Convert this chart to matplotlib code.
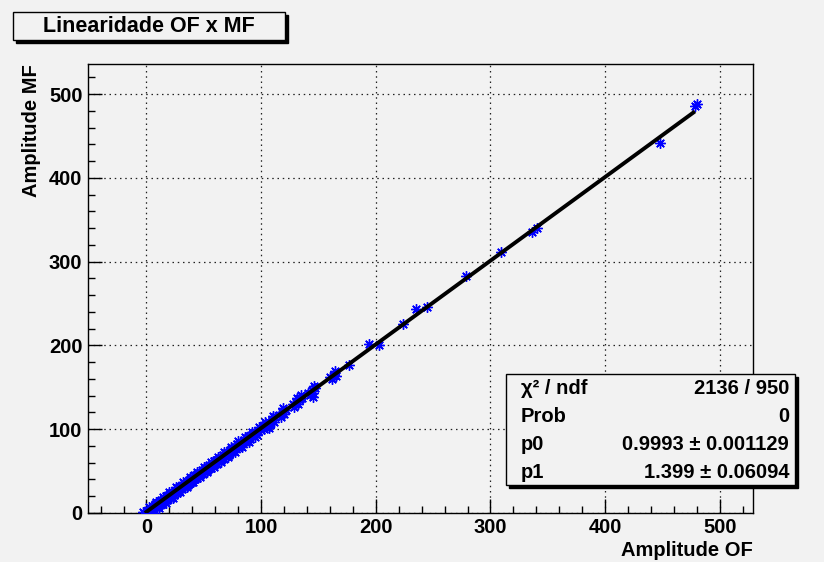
import matplotlib
matplotlib.use("Agg")
from matplotlib import pyplot as plt
from matplotlib.patches import Rectangle
import numpy as np

# ---- data ----
amp_of = [
    -3.0, 0.5, 1.2, 2.0, 2.8, 3.5, 4.1, 5.0, 5.6, 6.3, 7.1, 7.8, 8.4, 9.2, 10.0,
    10.7, 11.5, 12.1, 12.9, 13.6, 14.4, 15.2, 15.9, 16.5, 17.4, 18.1, 18.8, 19.6,
    20.3, 21.1, 21.8, 22.6, 23.3, 24.0, 24.9, 25.5, 26.4, 27.1, 27.8, 28.6, 29.5,
    30.2, 30.9, 31.7, 32.5, 33.2, 34.0, 34.8, 35.5, 36.3, 37.0, 37.9, 38.6, 39.4,
    40.1, 41.0, 41.8, 42.5, 43.3, 44.2, 45.0, 45.8, 46.6, 47.5, 48.3, 49.2, 50.0,
    50.9, 51.8, 52.6, 53.5, 54.4, 55.3, 56.2, 57.1, 58.0, 59.0, 59.9, 60.8, 61.8,
    62.7, 63.7, 64.6, 65.6, 66.6, 67.6, 68.6, 69.6, 70.6, 71.7, 72.7, 73.8, 74.8,
    75.9, 77.0, 78.1, 79.3, 80.4, 81.6, 82.8, 84.0, 85.3, 86.5, 87.8, 89.1, 90.5,
    91.8, 93.2, 94.6, 96.0, 97.5, 99.0,
    2.5, 4.5, 8.0, 11.0, 14.0, 17.0, 20.0, 23.0, 26.0, 29.0, 32.0, 35.0, 38.0,
    41.0, 44.0, 47.0, 50.0, 53.0, 56.0, 59.0, 62.0, 65.0, 68.0, 71.0, 74.0, 77.0,
    80.0, 83.0, 86.0, 89.0, 92.0, 95.0, 98.0,
    100.2, 101.5, 102.8, 104.0, 105.5, 106.8, 108.0, 109.5, 111.0, 112.5,
    103.0, 107.0, 110.5,
    115.5, 117.0, 118.5, 120.0, 121.5, 119.0,
    127.5, 129.0, 130.5, 132.0, 133.5, 136.0, 131.0, 135.0,
    141.0, 142.5, 144.0, 145.5, 147.0, 145.0, 146.0,
    160.5, 162.0, 163.5, 165.5, 164.0, 176.5,
    194.0, 203.0, 224.0, 235.0, 245.0, 279.0, 309.0, 336.0, 341.0, 448.0,
    478.0, 480.0,
]
amp_mf = [
    1.0, 2.9, 0.2, 2.6, 5.8, 0.9, 5.3, 4.6, 7.6, 3.3, 8.0, 10.5, 7.3, 7.0, 11.6,
    10.8, 14.7, 10.6, 15.1, 10.8, 14.8, 17.6, 14.1, 17.1, 20.4, 15.5, 20.0, 19.2,
    22.3, 18.1, 22.7, 25.3, 22.2, 21.8, 26.5, 25.6, 29.6, 25.6, 30.0, 25.8, 29.9,
    32.6, 29.1, 32.3, 35.5, 30.6, 35.2, 34.4, 37.5, 33.3, 37.9, 40.6, 37.5, 37.2,
    41.7, 41.1, 45.0, 41.0, 45.5, 41.4, 45.4, 48.2, 44.8, 48.1, 51.3, 46.6, 51.2,
    50.5, 53.8, 49.6, 54.4, 57.1, 54.2, 54.0, 58.7, 58.1, 62.2, 58.4, 63.0, 59.0,
    63.1, 66.1, 62.8, 66.2, 69.6, 65.0, 69.8, 69.2, 72.6, 68.7, 73.6, 76.5, 73.7,
    73.7, 78.6, 78.2, 82.5, 78.9, 83.8, 80.0, 84.4, 87.7, 84.7, 89.0, 92.1, 87.9,
    93.0, 92.8, 96.6, 93.0, 98.4, 101.7,
    7.5, 0.0, 13.0, 6.5, 19.0, 12.5, 25.0, 18.5, 31.0, 24.5, 37.0, 30.5, 43.0,
    36.5, 49.0, 42.5, 55.0, 48.5, 61.0, 54.5, 67.0, 60.5, 73.0, 66.5, 79.0, 72.5,
    85.5, 78.5, 91.0, 84.5, 97.0, 90.5, 103.0,
    98.9, 104.0, 100.6, 105.8, 103.0, 109.1, 106.3, 111.0, 108.5, 114.6,
    109.0, 102.0, 116.0,
    116.8, 114.8, 121.0, 118.3, 123.4, 125.0,
    129.6, 127.0, 132.4, 130.1, 135.8, 137.5, 137.0, 141.0,
    143.6, 140.4, 146.8, 143.6, 148.8, 139.0, 152.0,
    162.6, 160.5, 165.2, 163.6, 169.0, 176.8,
    202.0, 201.0, 226.0, 244.0, 246.0, 283.0, 311.0, 336.0, 340.0, 442.0,
    486.0, 488.0,
]

fit_p0 = 0.9993   # slope
fit_p1 = 1.399    # offset
fit_range = [0.0, 477.0]

stats_names = ["χ² / ndf", "Prob", "p0", "p1"]
stats_values = ["2136 / 950", "0", "0.9993 ± 0.001129", "1.399 ± 0.06094"]

title = "Linearidade OF x MF"
bg = "#f2f2f2"

plt.rcParams['font.family'] = ['Liberation Sans', 'DejaVu Sans']
plt.rcParams['font.weight'] = 'bold'

W, H = 824, 562
fig = plt.figure(figsize=(W / 100, H / 100), dpi=100, facecolor=bg)
ax = fig.add_axes([88 / W, 1 - 513 / H, (753 - 88) / W, (513 - 64) / H])
ax.set_facecolor(bg)

ax.set_xlim(-51, 529)
ax.set_ylim(0, 536)

ax.set_xticks(np.arange(0, 501, 100))
ax.set_yticks(np.arange(0, 501, 100))
ax.set_xticks(np.arange(-40, 529, 20), minor=True)
ax.set_yticks(np.arange(0, 536, 20), minor=True)
ax.tick_params(which='both', direction='in', top=False, right=False,
               width=1, colors='black', labelsize=14.5)
ax.tick_params(which='major', length=10)
ax.tick_params(which='minor', length=5)
ax.tick_params(axis='x', pad=3.5)
ax.tick_params(axis='y', pad=4)
for lab in ax.get_xticklabels() + ax.get_yticklabels():
    lab.set_fontweight('bold')
for sp in ax.spines.values():
    sp.set_linewidth(1.0)
    sp.set_color('black')

ax.grid(True, which='major', linestyle=(0, (1.2, 3)), color='#222222', lw=0.9)
ax.set_axisbelow(True)

ax.plot(amp_of, amp_mf, linestyle='none', marker=(8, 2, 0), ms=7.5, mew=1.0,
        color='#0000ff', zorder=3)
fx = np.array(fit_range)
ax.plot(fx, fit_p0 * fx + fit_p1, color='black', lw=2.8, zorder=4)

ax.set_xlabel("Amplitude OF", loc='right', fontsize=14.5, fontweight='bold')
ax.xaxis.set_label_coords(1.0, -0.063)
ax.set_ylabel("Amplitude MF", loc='top', fontsize=14.5, fontweight='bold')
ax.yaxis.set_label_coords(-0.071, 1.0)

# title box with shadow
def box(x0, y0, x1, y1):
    fig.patches.append(Rectangle((x0 / W + 3 / W, 1 - y1 / H - 3 / H), (x1 - x0) / W,
                                 (y1 - y0) / H, transform=fig.transFigure,
                                 facecolor='black', edgecolor='black', zorder=5))
    fig.patches.append(Rectangle((x0 / W, 1 - y1 / H), (x1 - x0) / W, (y1 - y0) / H,
                                 transform=fig.transFigure, facecolor=bg,
                                 edgecolor='black', lw=1, zorder=6))

box(13, 12, 285, 40)
fig.text(149 / W, 1 - 26 / H, title, ha='center', va='center', fontsize=15.5,
         fontweight='bold', zorder=7)

# stats box
box(506, 374, 795, 485)
baselines = [394, 422, 450, 478]
for name, val, yb in zip(stats_names, stats_values, baselines):
    fig.text(521 / W, 1 - yb / H, name, ha='left', va='baseline', fontsize=14.5,
             fontweight='bold', zorder=7)
    fig.text(789 / W, 1 - yb / H, val, ha='right', va='baseline', fontsize=14.5,
             fontweight='bold', zorder=7)

fig.savefig("out.png", dpi=100, facecolor=bg)
